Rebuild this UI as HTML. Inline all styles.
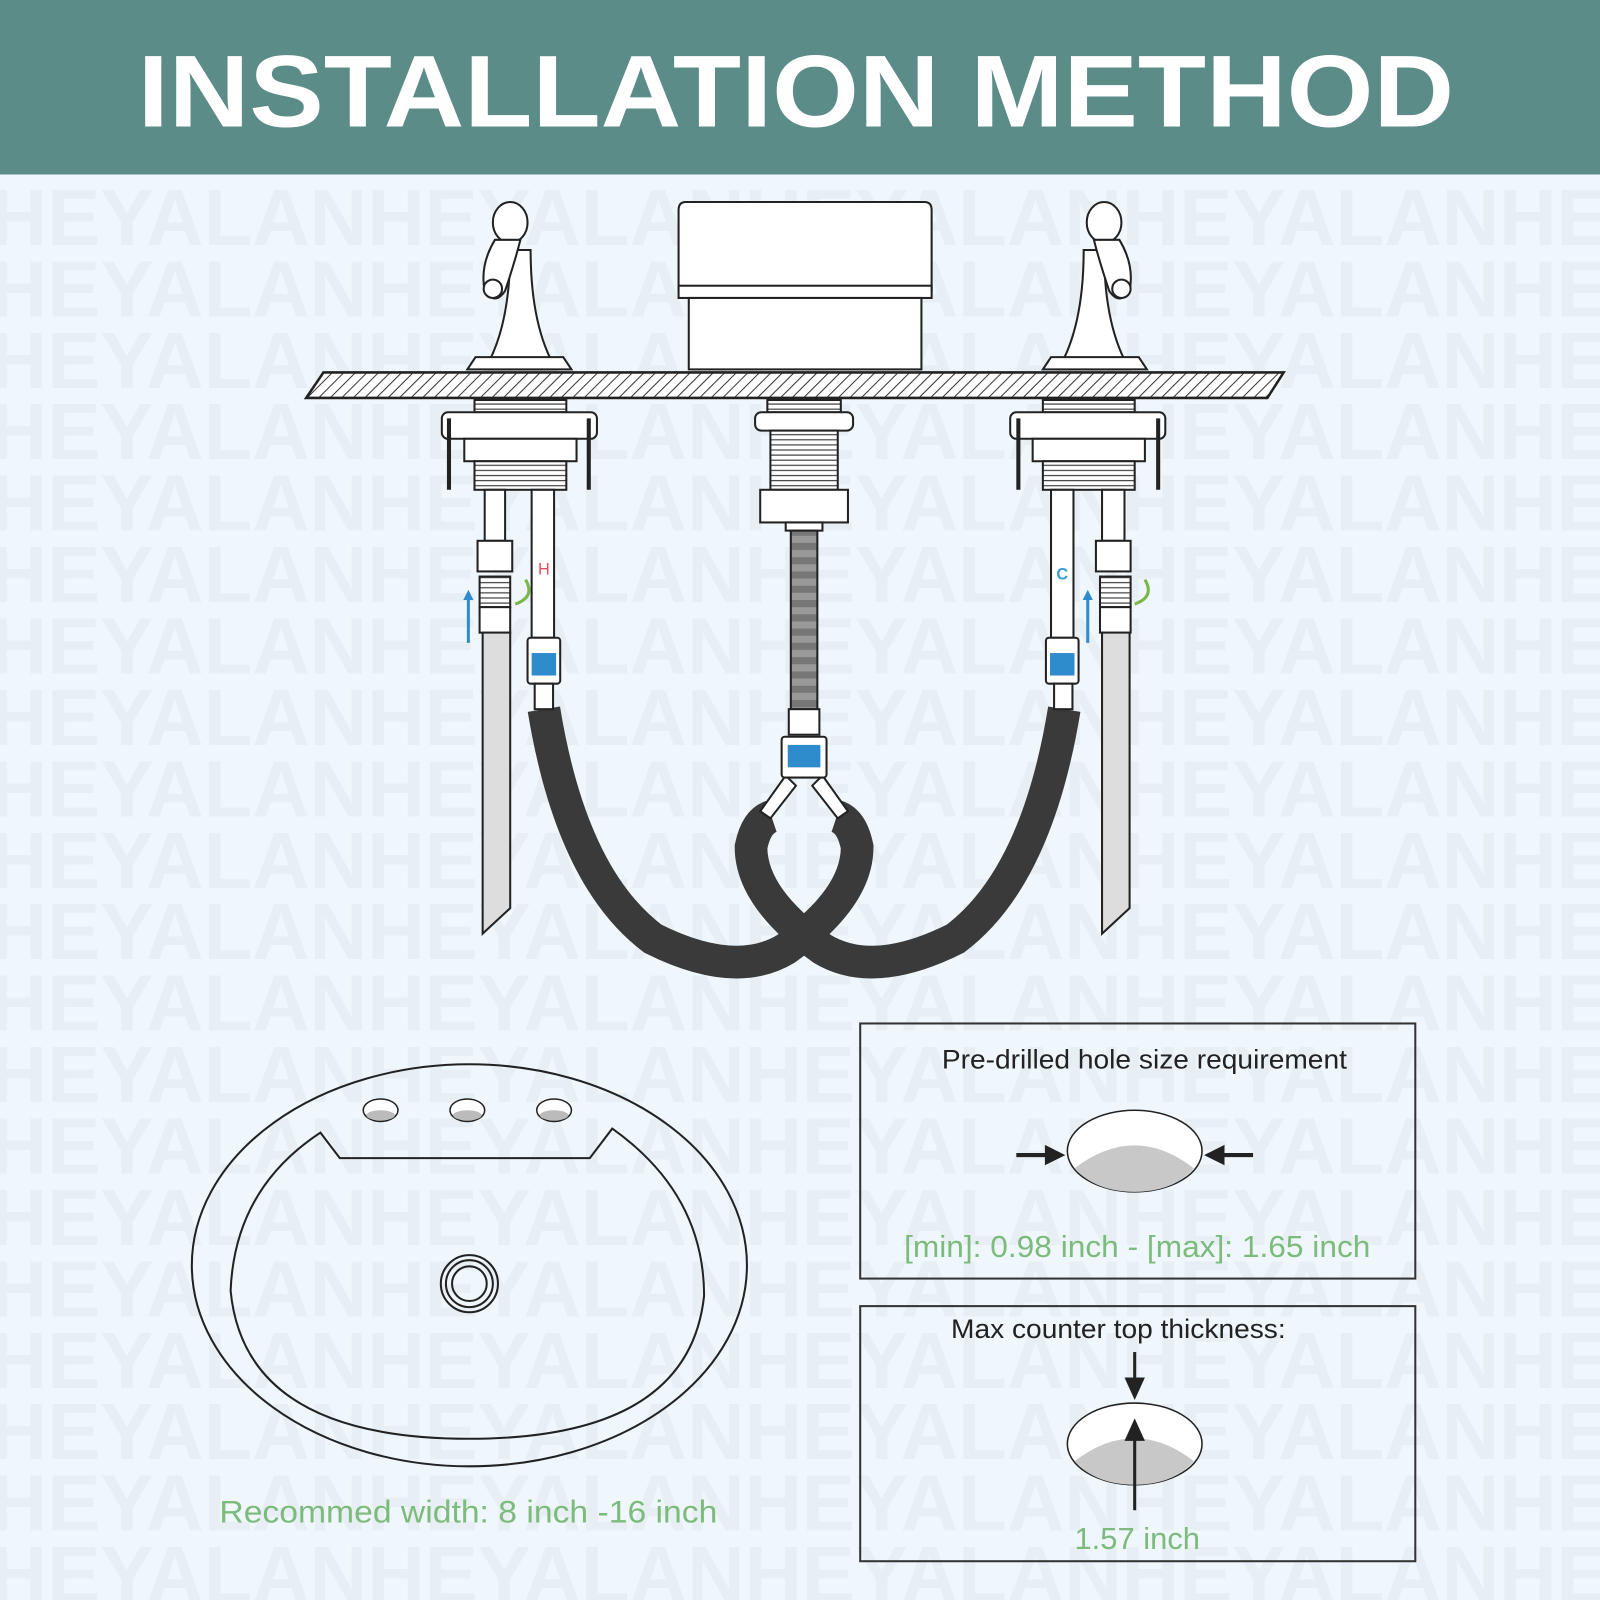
<!DOCTYPE html>
<html><head><meta charset="utf-8"><style>
html,body{margin:0;padding:0;width:1600px;height:1600px;overflow:hidden;background:#eff7fc}
svg{display:block}
</style></head><body>
<svg width="1600" height="1600" viewBox="0 0 1568 1568" xmlns="http://www.w3.org/2000/svg" font-family="Liberation Sans, sans-serif">
<defs>
<pattern id="hatch" width="8" height="8" patternUnits="userSpaceOnUse" patternTransform="rotate(45)">
<rect width="8" height="8" fill="#fff"/><line x1="0" y1="0" x2="0" y2="8" stroke="#333" stroke-width="2"/></pattern>
<pattern id="thread" width="6" height="5" patternUnits="userSpaceOnUse"><rect width="6" height="5" fill="#fff"/><line x1="0" y1="1" x2="6" y2="1" stroke="#444" stroke-width="1.2"/></pattern>
<pattern id="cpipe" width="6" height="14" patternUnits="userSpaceOnUse"><rect width="6" height="14" fill="#777"/><rect y="7" width="6" height="7" fill="#999"/></pattern>
</defs>
<rect width="1568" height="1568" fill="#eff7fc"/>
<g font-weight="bold" font-size="78" fill="#e7eff5">
<text x="-10" y="240">HEYALANHEYALANHEYALANHEYALANHEY</text>
<text x="-10" y="310">HEYALANHEYALANHEYALANHEYALANHEY</text>
<text x="-10" y="380">HEYALANHEYALANHEYALANHEYALANHEY</text>
<text x="-10" y="450">HEYALANHEYALANHEYALANHEYALANHEY</text>
<text x="-10" y="520">HEYALANHEYALANHEYALANHEYALANHEY</text>
<text x="-10" y="590">HEYALANHEYALANHEYALANHEYALANHEY</text>
<text x="-10" y="660">HEYALANHEYALANHEYALANHEYALANHEY</text>
<text x="-10" y="730">HEYALANHEYALANHEYALANHEYALANHEY</text>
<text x="-10" y="800">HEYALANHEYALANHEYALANHEYALANHEY</text>
<text x="-10" y="870">HEYALANHEYALANHEYALANHEYALANHEY</text>
<text x="-10" y="940">HEYALANHEYALANHEYALANHEYALANHEY</text>
<text x="-10" y="1010">HEYALANHEYALANHEYALANHEYALANHEY</text>
<text x="-10" y="1080">HEYALANHEYALANHEYALANHEYALANHEY</text>
<text x="-10" y="1150">HEYALANHEYALANHEYALANHEYALANHEY</text>
<text x="-10" y="1220">HEYALANHEYALANHEYALANHEYALANHEY</text>
<text x="-10" y="1290">HEYALANHEYALANHEYALANHEYALANHEY</text>
<text x="-10" y="1360">HEYALANHEYALANHEYALANHEYALANHEY</text>
<text x="-10" y="1430">HEYALANHEYALANHEYALANHEYALANHEY</text>
<text x="-10" y="1500">HEYALANHEYALANHEYALANHEYALANHEY</text>
<text x="-10" y="1570">HEYALANHEYALANHEYALANHEYALANHEY</text>
</g>
<rect width="1568" height="171" fill="#5b8c87"/>
<text x="135" y="124" textLength="1290" lengthAdjust="spacingAndGlyphs" font-size="100" font-weight="bold" fill="#fff">INSTALLATION METHOD</text>

<g stroke="#222" stroke-width="2" fill="#fff">
<path d="M672 198 H906 Q913 198 913 206 V285 H665 V206 Q665 198 672 198Z"/>
<rect x="665" y="280" width="248" height="12"/>
<rect x="675" y="292" width="228" height="70"/>
<g>
<path d="M475 362 Q500 320 500 245 H520 Q520 320 545 362Z"/>
<path d="M458 362 h102 l-8 -12 h-86z"/>
<ellipse cx="500" cy="218" rx="17" ry="20"/>
<path d="M485 235 Q470 260 475 285 Q485 300 495 285 Q505 255 510 235Z"/>
<ellipse cx="483" cy="283" rx="9" ry="9"/>
</g>
<g transform="translate(1582,0) scale(-1,1)">
<path d="M475 362 Q500 320 500 245 H520 Q520 320 545 362Z"/>
<path d="M458 362 h102 l-8 -12 h-86z"/>
<ellipse cx="500" cy="218" rx="17" ry="20"/>
<path d="M485 235 Q470 260 475 285 Q485 300 495 285 Q505 255 510 235Z"/>
<ellipse cx="483" cy="283" rx="9" ry="9"/>
</g>
<polygon points="317,365 1258,365 1242,390 300,390" fill="url(#hatch)" stroke-width="2.5"/>
<rect x="465" y="392" width="90" height="12" fill="url(#thread)"/>
<rect x="433" y="404" width="152" height="26" rx="6"/>
<rect x="455" y="430" width="110" height="22"/>
<rect x="465" y="452" width="90" height="28" fill="url(#thread)"/>
<line x1="440" y1="410" x2="440" y2="480" stroke-width="4"/>
<line x1="577" y1="410" x2="577" y2="480" stroke-width="4"/>
<rect x="475" y="480" width="20" height="50"/><rect x="468" y="530" width="34" height="30"/>
<rect x="521" y="480" width="22" height="145"/>
<rect x="1022" y="392" width="90" height="12" fill="url(#thread)"/>
<rect x="990" y="404" width="152" height="26" rx="6"/>
<rect x="1012" y="430" width="110" height="22"/>
<rect x="1022" y="452" width="90" height="28" fill="url(#thread)"/>
<line x1="998" y1="410" x2="998" y2="480" stroke-width="4"/>
<line x1="1135" y1="410" x2="1135" y2="480" stroke-width="4"/>
<rect x="1080" y="480" width="22" height="50"/><rect x="1074" y="530" width="34" height="30"/>
<rect x="1030" y="480" width="22" height="145"/>
<rect x="752" y="392" width="72" height="12" fill="url(#thread)"/>
<rect x="740" y="404" width="96" height="18" rx="6"/>
<rect x="755" y="422" width="66" height="58" fill="url(#thread)"/>
<rect x="745" y="480" width="86" height="32"/>
<rect x="770" y="512" width="36" height="8"/>
<rect x="775" y="520" width="26" height="175" fill="url(#cpipe)"/>
<rect x="773" y="695" width="30" height="25"/>
<rect x="470" y="565" width="30" height="30" fill="url(#thread)"/>
<rect x="470" y="595" width="30" height="25"/>
<polygon points="473,620 500,620 500,890 473,915" fill="#ddd"/>
<rect x="1078" y="565" width="30" height="30" fill="url(#thread)"/>
<rect x="1078" y="595" width="30" height="25"/>
<polygon points="1080,620 1107,620 1107,890 1080,915" fill="#ddd"/>
</g>
<g fill="none" stroke="#3a3a3a" stroke-width="32">
<path d="M533 695 Q560 860 640 920 Q720 960 770 930 Q840 880 840 830 Q835 805 820 800"/>
<path d="M1043 695 Q1016 860 936 920 Q856 960 806 930 Q736 880 736 830 Q741 805 756 800"/>
</g>
<g stroke="#222" stroke-width="2" fill="#fff">
<path d="M770 760 L745 795 L755 802 L780 770Z"/><path d="M806 760 L831 795 L821 802 L796 770Z"/>
<rect x="766" y="722" width="44" height="40" rx="3"/>
<rect x="517" y="625" width="32" height="45" rx="3"/><rect x="524" y="670" width="18" height="25"/>
<rect x="1025" y="625" width="32" height="45" rx="3"/><rect x="1033" y="670" width="18" height="25"/>
</g>
<rect x="772" y="730" width="32" height="22" fill="#2e8ccc"/>
<rect x="521" y="640" width="24" height="22" fill="#2e8ccc"/>
<rect x="1029" y="640" width="24" height="22" fill="#2e8ccc"/>
<text x="533" y="563" font-size="16" fill="#e05060" text-anchor="middle">H</text>
<text x="1041" y="568" font-size="16" fill="#3a9ad8" text-anchor="middle" font-weight="bold">C</text>
<g stroke="#2e8ccc" stroke-width="3" fill="#2e8ccc"><line x1="459" y1="630" x2="459" y2="585"/><line x1="1066" y1="630" x2="1066" y2="585"/></g>
<polygon points="454,588 459,578 464,588" fill="#2e8ccc"/><polygon points="1061,588 1066,578 1071,588" fill="#2e8ccc"/>
<g stroke="#7ab648" stroke-width="3" fill="none"><path d="M505 592 Q525 585 515 568"/><path d="M1112 592 Q1132 585 1122 568"/></g>

<g stroke="#222" stroke-width="2" fill="none">
<ellipse cx="460" cy="1240" rx="272" ry="197"/>
<path d="M314 1110 L333 1135 H578 L600 1106 Q690 1170 690 1270 Q675 1410 460 1410 Q240 1410 226 1265 Q230 1165 314 1110Z"/>
<circle cx="460" cy="1258" r="28"/><circle cx="460" cy="1258" r="23"/><circle cx="460" cy="1258" r="17"/>
</g>
<g stroke="#222" stroke-width="1.5" fill="#fff">
<ellipse cx="373" cy="1088" rx="17" ry="11"/><ellipse cx="458" cy="1088" rx="17" ry="11"/><ellipse cx="543" cy="1088" rx="17" ry="11"/>
</g>
<g fill="#bbb"><ellipse cx="373" cy="1093" rx="14" ry="5"/><ellipse cx="458" cy="1093" rx="14" ry="5"/><ellipse cx="543" cy="1093" rx="14" ry="5"/></g>
<text x="215" y="1492" textLength="488" lengthAdjust="spacingAndGlyphs" font-size="31" fill="#7dbb7d">Recommed width: 8 inch -16 inch</text>

<rect x="843" y="1003" width="544" height="250" fill="none" stroke="#333" stroke-width="2"/>
<rect x="843" y="1280" width="544" height="250" fill="none" stroke="#333" stroke-width="2"/>
<text x="923" y="1047" textLength="397" lengthAdjust="spacingAndGlyphs" font-size="26" fill="#222">Pre-drilled hole size requirement</text>
<ellipse cx="1112" cy="1128" rx="66" ry="40" fill="#fff" stroke="#222" stroke-width="1.5"/>
<path d="M1053 1145 Q1112 1100 1170 1145 Q1150 1168 1112 1168 Q1074 1168 1053 1145Z" fill="#c8c8c8"/>
<line x1="996" y1="1132" x2="1030" y2="1132" stroke="#222" stroke-width="4"/><polygon points="1024,1122 1044,1132 1024,1142" fill="#222"/>
<line x1="1228" y1="1132" x2="1194" y2="1132" stroke="#222" stroke-width="4"/><polygon points="1200,1122 1180,1132 1200,1142" fill="#222"/>
<text x="886" y="1232" textLength="457" lengthAdjust="spacingAndGlyphs" font-size="30" fill="#7dbb7d">[min]: 0.98 inch - [max]: 1.65 inch</text>
<text x="932" y="1311" textLength="328" lengthAdjust="spacingAndGlyphs" font-size="26" fill="#222">Max counter top thickness:</text>
<ellipse cx="1112" cy="1415" rx="66" ry="40" fill="#fff" stroke="#222" stroke-width="1.5"/>
<path d="M1053 1432 Q1112 1387 1170 1432 Q1150 1455 1112 1455 Q1074 1455 1053 1432Z" fill="#c8c8c8"/>
<line x1="1112" y1="1325" x2="1112" y2="1355" stroke="#222" stroke-width="3"/><polygon points="1102,1350 1112,1372 1122,1350" fill="#222"/>
<line x1="1112" y1="1480" x2="1112" y2="1410" stroke="#222" stroke-width="3"/><polygon points="1102,1412 1112,1390 1122,1412" fill="#222"/>
<text x="1053" y="1518" textLength="123" lengthAdjust="spacingAndGlyphs" font-size="30" fill="#7dbb7d">1.57 inch</text>
</svg>
</body></html>
